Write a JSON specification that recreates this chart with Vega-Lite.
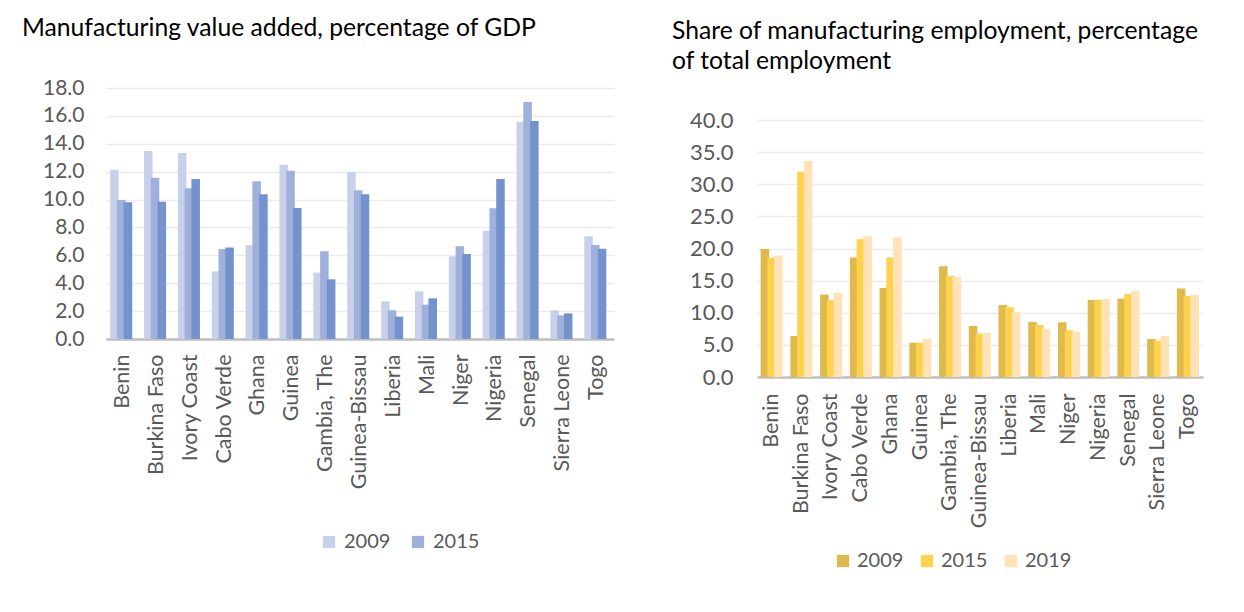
{
  "$schema": "https://vega.github.io/schema/vega-lite/v6.json",
  "background": "white",
  "padding": {"left": 22, "top": 16, "right": 5, "bottom": 5},
  "config": {
    "font": "Lato",
    "view": {"stroke": null},
    "axis": {"labelFont": "Lato", "labelColor": "#595959", "ticks": false, "title": null},
    "title": {"font": "Lato", "fontWeight": "normal", "color": "#000000", "anchor": "start", "frame": "group"}
  },
  "datasets": {
    "gdp": [
      {"country": "Benin", "year": "2009", "value": 12.14}, {"country": "Benin", "year": "2015", "value": 9.97}, {"country": "Benin", "year": "2019", "value": 9.8},
      {"country": "Burkina Faso", "year": "2009", "value": 13.48}, {"country": "Burkina Faso", "year": "2015", "value": 11.57}, {"country": "Burkina Faso", "year": "2019", "value": 9.85},
      {"country": "Ivory Coast", "year": "2009", "value": 13.34}, {"country": "Ivory Coast", "year": "2015", "value": 10.81}, {"country": "Ivory Coast", "year": "2019", "value": 11.47},
      {"country": "Cabo Verde", "year": "2009", "value": 4.85}, {"country": "Cabo Verde", "year": "2015", "value": 6.45}, {"country": "Cabo Verde", "year": "2019", "value": 6.57},
      {"country": "Ghana", "year": "2009", "value": 6.72}, {"country": "Ghana", "year": "2015", "value": 11.31}, {"country": "Ghana", "year": "2019", "value": 10.38},
      {"country": "Guinea", "year": "2009", "value": 12.5}, {"country": "Guinea", "year": "2015", "value": 12.07}, {"country": "Guinea", "year": "2019", "value": 9.4},
      {"country": "Gambia, The", "year": "2009", "value": 4.76}, {"country": "Gambia, The", "year": "2015", "value": 6.29}, {"country": "Gambia, The", "year": "2019", "value": 4.28},
      {"country": "Guinea-Bissau", "year": "2009", "value": 11.95}, {"country": "Guinea-Bissau", "year": "2015", "value": 10.66}, {"country": "Guinea-Bissau", "year": "2019", "value": 10.38},
      {"country": "Liberia", "year": "2009", "value": 2.7}, {"country": "Liberia", "year": "2015", "value": 2.06}, {"country": "Liberia", "year": "2019", "value": 1.6},
      {"country": "Mali", "year": "2009", "value": 3.42}, {"country": "Mali", "year": "2015", "value": 2.46}, {"country": "Mali", "year": "2019", "value": 2.92},
      {"country": "Niger", "year": "2009", "value": 5.93}, {"country": "Niger", "year": "2015", "value": 6.65}, {"country": "Niger", "year": "2019", "value": 6.1},
      {"country": "Nigeria", "year": "2009", "value": 7.77}, {"country": "Nigeria", "year": "2015", "value": 9.37}, {"country": "Nigeria", "year": "2019", "value": 11.47},
      {"country": "Senegal", "year": "2009", "value": 15.56}, {"country": "Senegal", "year": "2015", "value": 17.0}, {"country": "Senegal", "year": "2019", "value": 15.63},
      {"country": "Sierra Leone", "year": "2009", "value": 2.06}, {"country": "Sierra Leone", "year": "2015", "value": 1.7}, {"country": "Sierra Leone", "year": "2019", "value": 1.84},
      {"country": "Togo", "year": "2009", "value": 7.36}, {"country": "Togo", "year": "2015", "value": 6.74}, {"country": "Togo", "year": "2019", "value": 6.48}
    ],
    "emp": [
      {"country": "Benin", "year": "2009", "value": 19.95}, {"country": "Benin", "year": "2015", "value": 18.55}, {"country": "Benin", "year": "2019", "value": 18.9},
      {"country": "Burkina Faso", "year": "2009", "value": 6.39}, {"country": "Burkina Faso", "year": "2015", "value": 31.95}, {"country": "Burkina Faso", "year": "2019", "value": 33.66},
      {"country": "Ivory Coast", "year": "2009", "value": 12.83}, {"country": "Ivory Coast", "year": "2015", "value": 11.95}, {"country": "Ivory Coast", "year": "2019", "value": 13.09},
      {"country": "Cabo Verde", "year": "2009", "value": 18.6}, {"country": "Cabo Verde", "year": "2015", "value": 21.45}, {"country": "Cabo Verde", "year": "2019", "value": 21.92},
      {"country": "Ghana", "year": "2009", "value": 13.87}, {"country": "Ghana", "year": "2015", "value": 18.6}, {"country": "Ghana", "year": "2019", "value": 21.71},
      {"country": "Guinea", "year": "2009", "value": 5.35}, {"country": "Guinea", "year": "2015", "value": 5.35}, {"country": "Guinea", "year": "2019", "value": 5.97},
      {"country": "Gambia, The", "year": "2009", "value": 17.25}, {"country": "Gambia, The", "year": "2015", "value": 15.74}, {"country": "Gambia, The", "year": "2019", "value": 15.58},
      {"country": "Guinea-Bissau", "year": "2009", "value": 7.95}, {"country": "Guinea-Bissau", "year": "2015", "value": 6.75}, {"country": "Guinea-Bissau", "year": "2019", "value": 6.86},
      {"country": "Liberia", "year": "2009", "value": 11.22}, {"country": "Liberia", "year": "2015", "value": 10.86}, {"country": "Liberia", "year": "2019", "value": 10.13},
      {"country": "Mali", "year": "2009", "value": 8.57}, {"country": "Mali", "year": "2015", "value": 8.1}, {"country": "Mali", "year": "2019", "value": 7.48},
      {"country": "Niger", "year": "2009", "value": 8.52}, {"country": "Niger", "year": "2015", "value": 7.27}, {"country": "Niger", "year": "2019", "value": 7.06},
      {"country": "Nigeria", "year": "2009", "value": 12.0}, {"country": "Nigeria", "year": "2015", "value": 12.0}, {"country": "Nigeria", "year": "2019", "value": 12.16},
      {"country": "Senegal", "year": "2009", "value": 12.21}, {"country": "Senegal", "year": "2015", "value": 12.94}, {"country": "Senegal", "year": "2019", "value": 13.4},
      {"country": "Sierra Leone", "year": "2009", "value": 5.92}, {"country": "Sierra Leone", "year": "2015", "value": 5.66}, {"country": "Sierra Leone", "year": "2019", "value": 6.39},
      {"country": "Togo", "year": "2009", "value": 13.77}, {"country": "Togo", "year": "2015", "value": 12.62}, {"country": "Togo", "year": "2019", "value": 12.78}
    ]
  },
  "spacing": 58,
  "align": "none",
  "resolve": {"scale": {"color": "independent", "y": "independent", "x": "independent"}, "legend": {"color": "independent"}},
  "hconcat": [
    {
      "width": 508,
      "height": 251,
      "title": {"text": "Manufacturing value added, percentage of GDP", "fontSize": 24.7, "dx": -84, "offset": 36},
      "data": {"name": "gdp"},
      "mark": {"type": "bar", "width": {"band": 1.26}},
      "encoding": {
        "x": {"field": "country", "type": "nominal", "sort": null,
          "scale": {"paddingInner": 0.4, "paddingOuter": 0.2},
          "axis": {"labelAngle": -90, "labelFontSize": 21.5, "labelPadding": 15, "domainColor": "#bfbfbf", "domainWidth": 2.5, "grid": false}},
        "xOffset": {"field": "year", "type": "nominal", "scale": {"paddingInner": 0, "paddingOuter": 0}},
        "y": {"field": "value", "type": "quantitative", "scale": {"domain": [0, 18]},
          "axis": {"values": [0, 2, 4, 6, 8, 10, 12, 14, 16, 18], "format": ".1f", "labelFontSize": 21, "labelPadding": 22, "domain": false, "gridColor": "#ececec", "gridWidth": 1.5}},
        "color": {"field": "year", "type": "nominal",
          "scale": {"domain": ["2009", "2015", "2019"], "range": ["#c9d1ea", "#9fb0dd", "#7493cd"]},
          "legend": {"values": ["2009", "2015"], "title": null, "orient": "none", "legendX": 213, "legendY": 444, "direction": "horizontal", "symbolType": "square", "symbolSize": 150, "symbolStrokeWidth": 0, "labelFontSize": 20, "labelColor": "#595959", "labelFont": "Lato", "labelOffset": 5, "columnPadding": 17}}
      }
    },
    {
      "width": 446,
      "height": 289,
      "title": {"text": ["Share of manufacturing employment, percentage", "of total employment"], "fontSize": 24.7, "lineHeight": 30, "dx": -85, "offset": 14},
      "data": {"name": "emp"},
      "mark": {"type": "bar", "width": {"band": 1.26}},
      "encoding": {
        "x": {"field": "country", "type": "nominal", "sort": null,
          "scale": {"paddingInner": 0.4, "paddingOuter": 0.2},
          "axis": {"labelAngle": -90, "labelFontSize": 21.5, "labelPadding": 16, "domainColor": "#bfbfbf", "domainWidth": 2.5, "grid": false}},
        "xOffset": {"field": "year", "type": "nominal", "scale": {"paddingInner": 0, "paddingOuter": 0}},
        "y": {"field": "value", "type": "quantitative", "scale": {"domain": [0, 45]},
          "axis": {"values": [0, 5, 10, 15, 20, 25, 30, 35, 40], "format": ".1f", "labelFontSize": 22, "labelPadding": 24, "domain": false, "gridColor": "#ececec", "gridWidth": 1.5}},
        "color": {"field": "year", "type": "nominal",
          "scale": {"domain": ["2009", "2015", "2019"], "range": ["#dfb94b", "#ffd24e", "#ffe3b6"]},
          "legend": {"title": null, "orient": "none", "legendX": 76, "legendY": 463, "direction": "horizontal", "symbolType": "square", "symbolSize": 150, "symbolStrokeWidth": 0, "labelFontSize": 20, "labelColor": "#595959", "labelFont": "Lato", "labelOffset": 4, "columnPadding": 13}}
      }
    }
  ]
}
